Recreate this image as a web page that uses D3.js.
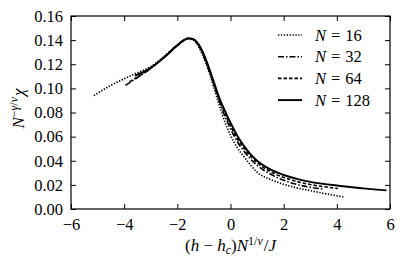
<!DOCTYPE html>
<html>
<head>
<meta charset="utf-8">
<script src="https://cdn.jsdelivr.net/npm/d3@7"></script>
<style>
  html, body { margin: 0; padding: 0; background: #fff; }
</style>
</head>
<body>
<div id="chart"></div>
<script>
// scaled susceptibility vs scaled field, four system sizes

const xTicks = [-6, -4, -2, 0, 2, 4, 6];
const yTicks = [0.00, 0.02, 0.04, 0.06, 0.08, 0.10, 0.12, 0.14, 0.16];
const sizes = [16, 32, 64, 128];

// [x, y] pairs
const n16 = [[-5.14, 0.094], [-4.5, 0.1025], [-4.0, 0.108], [-3.5, 0.113], [-3.0, 0.118], [-2.5, 0.1265],
  [-2.0, 0.136], [-1.8, 0.1395], [-1.6, 0.141], [-1.4, 0.140], [-1.2, 0.1345], [-1.0, 0.125], [-0.8, 0.113],
  [-0.6, 0.099], [-0.4, 0.0845], [-0.2, 0.0715], [0.0, 0.061], [0.25, 0.051], [0.5, 0.0435], [0.75, 0.0365],
  [1.0, 0.0305], [1.5, 0.0245], [2.0, 0.0205], [2.5, 0.0175], [3.0, 0.0152], [3.5, 0.013], [4.0, 0.011], [4.3, 0.0097]];
const n32 = [[-3.95, 0.1025], [-3.5, 0.109], [-3.0, 0.1165], [-2.5, 0.126], [-2.0, 0.136], [-1.8, 0.1395],
  [-1.6, 0.1412], [-1.4, 0.1405], [-1.2, 0.1355], [-1.0, 0.1265], [-0.8, 0.1145], [-0.6, 0.101], [-0.4, 0.088],
  [-0.2, 0.0765], [0.0, 0.0665], [0.25, 0.056], [0.5, 0.048], [0.75, 0.0415], [1.0, 0.0362], [1.5, 0.029],
  [2.0, 0.0238], [2.5, 0.0203], [3.0, 0.018], [3.5, 0.0165]];
const n64 = [[-3.8, 0.1055], [-3.5, 0.1095], [-3.0, 0.1168], [-2.5, 0.1258], [-2.0, 0.1357], [-1.8, 0.1392],
  [-1.6, 0.1414], [-1.4, 0.1407], [-1.2, 0.136], [-1.0, 0.1275], [-0.8, 0.1158], [-0.6, 0.1025], [-0.4, 0.0898],
  [-0.2, 0.0788], [0.0, 0.069], [0.25, 0.0585], [0.5, 0.0505], [0.75, 0.0438], [1.0, 0.0385], [1.5, 0.031],
  [2.0, 0.0262], [2.5, 0.0228], [3.0, 0.0203], [3.5, 0.0185], [4.04, 0.017]];
const n128 = [[-3.6, 0.1105], [-3.0, 0.117], [-2.5, 0.1255], [-2.0, 0.1355], [-1.8, 0.139], [-1.6, 0.1415],
  [-1.4, 0.1408], [-1.2, 0.1365], [-1.0, 0.128], [-0.8, 0.1165], [-0.6, 0.1035], [-0.4, 0.091], [-0.2, 0.081],
  [0.0, 0.0715], [0.25, 0.061], [0.5, 0.0525], [0.75, 0.0455], [1.0, 0.040], [1.5, 0.0328], [2.0, 0.0282],
  [2.5, 0.025], [3.0, 0.0225], [3.5, 0.0208], [4.0, 0.0195], [4.5, 0.0182], [5.0, 0.0171], [5.5, 0.0161], [5.87, 0.0154]];

const seriesData = [n16, n32, n64, n128];
const dashes = ['1.3,1.6', '6,2,1.5,2', '3.5,2', null];
const widths = [1.7, 1.6, 1.6, 1.9];
const FONT = '"Liberation Serif", serif';

const W = 415, H = 258;
const M = { left: 71, right: 25, top: 16, bottom: 49 };

const svg = d3.select('#chart').append('svg')
  .attr('width', W)
  .attr('height', H)
  .attr('font-family', FONT);

const x = d3.scaleLinear().domain([-6, 6]).range([M.left, W - M.right]);
const y = d3.scaleLinear().domain([0, 0.16]).range([H - M.bottom, M.top]);

svg.append('defs').append('clipPath').attr('id', 'plot-clip')
  .append('rect')
  .attr('x', M.left).attr('y', M.top)
  .attr('width', W - M.left - M.right).attr('height', H - M.top - M.bottom);

// curves
const line = d3.line()
  .x(d => x(d[0]))
  .y(d => y(d[1]))
  .curve(d3.curveMonotoneX);

svg.append('g').attr('clip-path', 'url(#plot-clip)')
  .selectAll('path')
  .data(seriesData).join('path')
  .attr('d', line)
  .attr('fill', 'none')
  .attr('stroke', '#000')
  .attr('stroke-width', (d, i) => widths[i])
  .attr('stroke-dasharray', (d, i) => dashes[i]);

// axes, ticks pointing inward on all four sides
const tickLen = 5;
const bottomAxis = d3.axisBottom(x).tickValues(xTicks).tickSizeInner(-tickLen).tickSizeOuter(0)
  .tickPadding(9).tickFormat(d => d < 0 ? '\u2212' + Math.abs(d) : d);
const topAxis = d3.axisTop(x).tickValues(xTicks).tickSizeInner(-tickLen).tickSizeOuter(0).tickFormat('');
const leftAxis = d3.axisLeft(y).tickValues(yTicks).tickSizeInner(-tickLen).tickSizeOuter(0)
  .tickPadding(8).tickFormat(d3.format('.2f'));
const rightAxis = d3.axisRight(y).tickValues(yTicks).tickSizeInner(-tickLen).tickSizeOuter(0).tickFormat('');

const gb = svg.append('g').attr('transform', `translate(0,${H - M.bottom})`).call(bottomAxis);
const gt = svg.append('g').attr('transform', `translate(0,${M.top})`).call(topAxis);
const gl = svg.append('g').attr('transform', `translate(${M.left},0)`).call(leftAxis);
const gr = svg.append('g').attr('transform', `translate(${W - M.right},0)`).call(rightAxis);

[gb, gt, gl, gr].forEach(g => {
  g.attr('font-family', FONT).attr('font-size', 16.5);
  g.select('.domain').remove();
  g.selectAll('line').attr('stroke', '#000').attr('stroke-width', 1);
  g.selectAll('text').attr('fill', '#000');
});

svg.append('rect')
  .attr('x', M.left).attr('y', M.top)
  .attr('width', W - M.left - M.right).attr('height', H - M.top - M.bottom)
  .attr('fill', 'none').attr('stroke', '#000').attr('stroke-width', 1.2);

// legend
const leg = svg.append('g').attr('transform', 'translate(278,35)');
sizes.forEach((n, i) => {
  const row = leg.append('g').attr('transform', `translate(0,${i * 21.7})`);
  row.append('line')
    .attr('x1', 0).attr('x2', 24).attr('y1', 0).attr('y2', 0)
    .attr('stroke', '#000')
    .attr('stroke-width', widths[i])
    .attr('stroke-dasharray', dashes[i]);
  const t = row.append('text').attr('x', 37).attr('y', 5.5).attr('font-size', 16.5);
  t.append('tspan').attr('font-style', 'italic').text('N');
  t.append('tspan').attr('dx', 5).text('=');
  t.append('tspan').attr('dx', 5).text(n);
});

// x label
const xl = svg.append('text')
  .attr('x', (M.left + W - M.right) / 2).attr('y', 251)
  .attr('text-anchor', 'middle').attr('font-size', 17);
xl.append('tspan').text('(');
xl.append('tspan').attr('font-style', 'italic').text('h');
xl.append('tspan').text(' \u2212 ');
xl.append('tspan').attr('font-style', 'italic').text('h');
xl.append('tspan').attr('font-style', 'italic').attr('font-size', 12).attr('dy', 3).text('c');
xl.append('tspan').attr('dy', -3).text(')');
xl.append('tspan').attr('font-style', 'italic').text('N');
xl.append('tspan').attr('font-size', 12).attr('dy', -6).text('1/');
xl.append('tspan').attr('font-size', 12).attr('font-style', 'italic').text('\u03bd');
xl.append('tspan').attr('dy', 6).attr('dx', 1).text('/');
xl.append('tspan').attr('font-style', 'italic').text('J');

// y label
const yl = svg.append('text')
  .attr('transform', `translate(24,${(M.top + H - M.bottom) / 2 - 4}) rotate(-90)`)
  .attr('text-anchor', 'middle').attr('font-size', 17);
yl.append('tspan').attr('font-style', 'italic').text('N');
yl.append('tspan').attr('font-size', 12).attr('dy', -6).text('\u2212');
yl.append('tspan').attr('font-size', 12).attr('font-style', 'italic').text('\u03b3');
yl.append('tspan').attr('font-size', 12).text('/');
yl.append('tspan').attr('font-size', 12).attr('font-style', 'italic').text('\u03bd');
yl.append('tspan').attr('dy', 6).attr('dx', 1).attr('font-style', 'italic').text('\u03c7');
</script>
</body>
</html>
